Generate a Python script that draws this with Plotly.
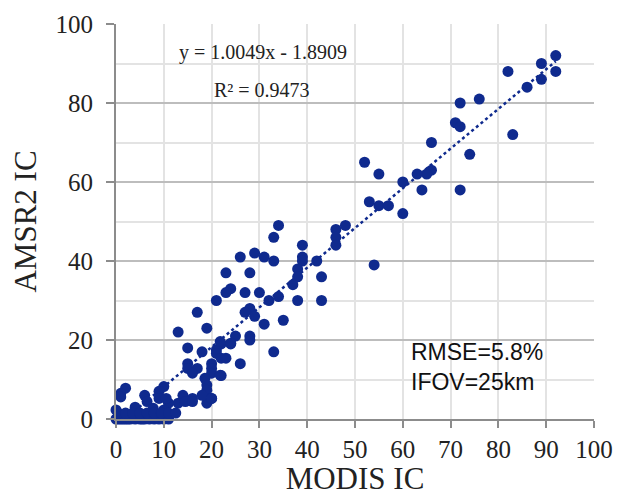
import plotly.graph_objects as go

# MODIS IC (x) and AMSR2 IC (y) values
modis_ic = [
    92, 89, 92, 82, 89, 86, 76, 72, 71, 72, 83, 66, 74, 52, 55, 66, 65, 63, 60, 64,
    72, 53, 55, 57, 60, 48, 46, 46, 46, 54,
    39, 39, 39, 42, 43, 34, 33, 26, 29, 31, 33, 38, 38, 23, 28, 37, 24, 23, 27, 30,
    34, 32, 38, 43, 21, 28, 27, 29, 35, 31, 17, 25, 28, 28, 13, 19, 24, 22, 15, 18,
    33, 21, 21, 22, 23, 26, 15, 15, 17, 16, 20, 20, 20, 22, 19, 19, 20, 19, 14, 16,
    13, 14.5, 16, 18, 10, 9, 9, 11, 10.5, 10, 10, 6, 6.5, 4, 2, 1, 1, 0,
    7.8, 3, 0, 0.5, 1, 1.5, 2, 2.5, 3, 4, 5, 5.5, 6, 7, 8, 9, 10, 11,
    0.5, 2, 3.5, 5, 6.5, 8, 9.5, 11, 12.5, 21.8, 18.6, 20, 24, 21.8
]
amsr2_ic = [
    92, 90, 88, 88, 86, 84, 81, 80, 75, 74, 72, 70, 67, 65, 62, 63, 62, 62, 60, 58,
    58, 55, 54, 54, 52, 49, 48, 46, 44, 39,
    44, 41, 40, 40, 36, 49, 46, 41, 42, 41, 40, 38, 36, 37, 37, 34, 33, 32, 32, 32,
    31, 30, 30, 30, 30, 28, 27, 26, 25, 24, 27, 21, 21, 20, 22, 23, 19, 19, 18, 17,
    17, 17.5, 16.6, 15.4, 15.4, 14, 14, 12.8, 12.8, 11.6, 14, 12.8, 11.6, 11, 8.6, 7.3, 5.2, 4, 6, 5.2,
    4, 4.4, 4.4, 6, 8.2, 7, 5.2, 4, 5.2, 2.3, 1.2, 6, 4.4, 3, 7.8, 6.5, 5.6, 2.3,
    2.7, 1.2, 0, 0, 0, 0, 0, 0, 0, 0, 0, 0, 0, 0, 0, 0, 0, 0,
    1.5, 1.5, 1.5, 1.5, 1.5, 1.5, 1.5, 1.5, 1.5, 19.6, 10.3, 5.2, 19.2, 11.1
]

slope = 1.0049
intercept = -1.8909
trend_x = [0, 92]
trend_y = [slope * v + intercept for v in trend_x]

x_ticks = [0, 10, 20, 30, 40, 50, 60, 70, 80, 90, 100]
y_ticks = [0, 20, 40, 60, 80, 100]

blue = "#0f2a8e"
serif = "Liberation Serif, Times New Roman, serif"
sans = "Liberation Sans, Arial, sans-serif"
txt = "#222222"

fig = go.Figure()
fig.add_trace(go.Scatter(
    x=trend_x, y=trend_y, mode="lines",
    line=dict(color=blue, width=2.5, dash="dot"),
    hoverinfo="skip", showlegend=False, cliponaxis=True,
))
fig.add_trace(go.Scatter(
    x=modis_ic, y=amsr2_ic, mode="markers",
    marker=dict(color=blue, size=11, line=dict(width=0)),
    showlegend=False, cliponaxis=False,
))

fig.update_layout(
    width=614, height=488,
    margin=dict(l=108, r=28, t=16, b=77, autoexpand=False),
    paper_bgcolor="white", plot_bgcolor="white",
    font=dict(family=serif, color=txt),
    xaxis=dict(
        range=[0, 100], tickvals=x_ticks, ticktext=[str(v) for v in x_ticks],
        showgrid=True, gridcolor="#e3e3e3", gridwidth=1.5,
        showline=True, linecolor="#8c8c8c", linewidth=2,
        ticks="outside", ticklen=7, tickcolor="#8c8c8c", tickwidth=2,
        tickfont=dict(family=serif, size=25, color=txt),
        title=dict(text="MODIS IC", font=dict(family=serif, size=31, color=txt), standoff=8),
        zeroline=False, automargin=False,
    ),
    yaxis=dict(
        range=[0, 100], tickvals=y_ticks, ticktext=[str(v) for v in y_ticks],
        showgrid=True, gridcolor="#bdbdbd", gridwidth=1.5,
        minor=dict(dtick=10, showgrid=True, gridcolor="#e3e3e3", gridwidth=1.5),
        showline=True, linecolor="#8c8c8c", linewidth=2,
        ticks="outside", ticklen=8, tickcolor="#8c8c8c", tickwidth=2,
        ticklabelstandoff=8,
        tickfont=dict(family=serif, size=25, color=txt),
        title=dict(text="AMSR2 IC", font=dict(family=serif, size=31, color=txt), standoff=12),
        zeroline=False, automargin=False,
    ),
    annotations=[
        dict(text="y = 1.0049x - 1.8909", xref="paper", yref="paper",
             x=(263 - 116) / 478, y=(419 - 52) / 395, showarrow=False,
             xanchor="center", yanchor="middle",
             font=dict(family=serif, size=20, color=txt)),
        dict(text="R² = 0.9473", xref="paper", yref="paper",
             x=(262 - 116) / 478, y=(419 - 90) / 395, showarrow=False,
             xanchor="center", yanchor="middle",
             font=dict(family=serif, size=20, color=txt)),
        dict(text="RMSE=5.8%", xref="paper", yref="paper",
             x=(409 - 116) / 478, y=(419 - 352) / 395, showarrow=False,
             xanchor="left", yanchor="middle",
             font=dict(family=sans, size=23, color="#111111")),
        dict(text="IFOV=25km", xref="paper", yref="paper",
             x=(409 - 116) / 478, y=(419 - 382) / 395, showarrow=False,
             xanchor="left", yanchor="middle",
             font=dict(family=sans, size=23, color="#111111")),
    ],
)

fig.write_html("out.html")
